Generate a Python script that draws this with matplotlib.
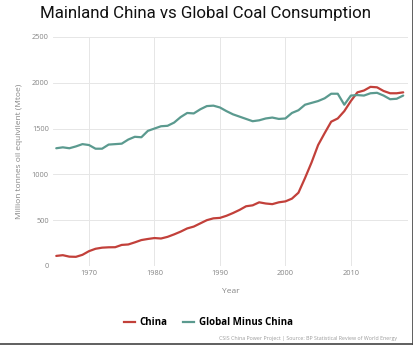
import numpy as np
import matplotlib
matplotlib.use("Agg")
import matplotlib.pyplot as plt
from matplotlib.lines import Line2D

years = list(range(1965, 2019))

# Mtoe
china = [110, 118, 102, 100, 122, 162, 188, 200, 204, 205, 230, 235, 258, 283, 295, 305,
         300, 318, 345, 375, 410, 430, 465, 500, 520, 525, 548, 578, 612, 652, 662, 695,
         682, 675, 695, 705, 735, 800, 960, 1130, 1320, 1450, 1575, 1610, 1690, 1800,
         1895, 1915, 1955, 1950, 1910, 1885, 1885, 1895]
global_minus_china = [1285, 1295, 1285, 1305, 1330, 1320, 1280, 1280, 1325, 1330, 1335,
                      1380, 1410, 1405, 1475, 1500, 1525, 1530, 1565, 1625, 1670, 1665,
                      1710, 1745, 1750, 1730, 1690, 1655, 1630, 1605, 1580, 1590, 1610,
                      1620, 1605, 1610, 1670, 1700, 1760, 1780, 1800, 1830, 1880, 1880,
                      1760, 1860, 1865, 1860, 1885, 1890, 1860, 1820, 1825, 1860]

yticks = [0, 500, 1000, 1500, 2000, 2500]
xticks = [1970, 1980, 1990, 2000, 2010]

red = "#c2403a"
teal = "#5b9a8f"
grey = "#858585"

fig = plt.figure(figsize=(4.14, 3.45), dpi=100)
ax = fig.add_axes([0.128, 0.229, 0.857, 0.664])

ax.plot(years, china, color=red, lw=1.6, solid_capstyle="round")
ax.plot(years, global_minus_china, color=teal, lw=1.6, solid_capstyle="round")

ax.set_xlim(1964.5, 2018.7)
ax.set_ylim(0, 2500)
ax.set_xticks(xticks)
ax.set_yticks(yticks)
for s in ax.spines.values():
    s.set_visible(False)
ax.grid(True, color="#e6e6e6", lw=0.7)
ax.set_axisbelow(True)
ax.tick_params(length=0, labelsize=5.3, labelcolor=grey, pad=3)
for lab in ax.get_xticklabels() + ax.get_yticklabels():
    lab.set_family("Open Sans")

ax.set_ylabel("Million tonnes oil equivilent (Mtoe)", fontsize=6, color=grey,
              family="Open Sans", labelpad=6)
ax.set_xlabel("Year", fontsize=6, color=grey, family="Open Sans", labelpad=8)

fig.text(0.497, 0.962, "Mainland China vs Global Coal Consumption", ha="center",
         va="center", fontsize=12.2, family="Roboto", color="#111111")

handles = [Line2D([], [], color=red, lw=1.6), Line2D([], [], color=teal, lw=1.6)]
leg = fig.legend(handles, ["China", "Global Minus China"], loc="center",
                 bbox_to_anchor=(0.503, 0.065), ncol=2, frameon=False,
                 handlelength=1.1, handletextpad=0.5, columnspacing=1.6,
                 prop={"family": "Open Sans", "weight": "bold", "size": 7})

fig.text(0.96, 0.02, "CSIS China Power Project | Source: BP Statistical Review of World Energy",
         ha="right", va="center", fontsize=3.8, color="#9a9a9a", family="Open Sans")

# frame on the right and bottom edge of the image
fig.add_artist(Line2D([0.998, 0.998], [0, 1], transform=fig.transFigure, color="#444444", lw=1.2))
fig.add_artist(Line2D([0, 1], [0.002, 0.002], transform=fig.transFigure, color="#444444", lw=1.2))

fig.savefig("out.png", dpi=100)
